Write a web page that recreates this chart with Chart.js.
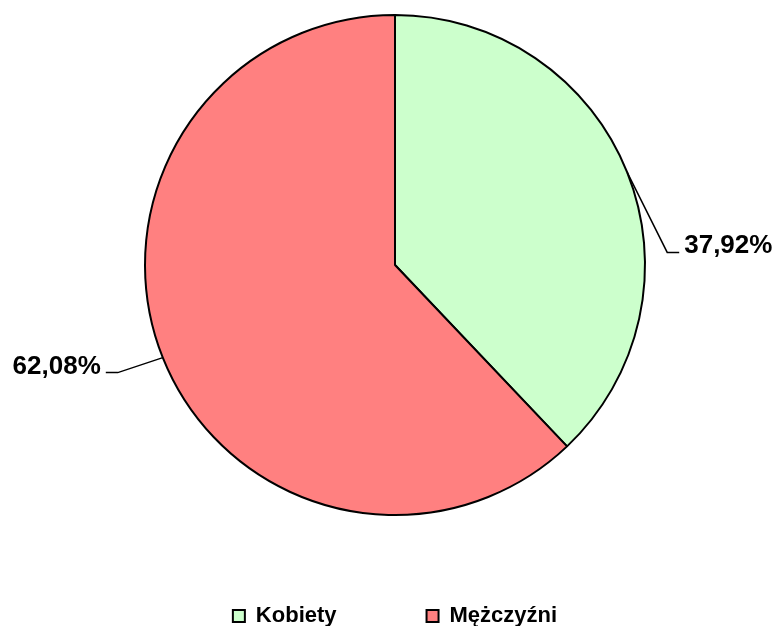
<!DOCTYPE html>
<html>
<head>
<meta charset="utf-8">
<script src="https://cdn.jsdelivr.net/npm/chart.js@4"></script>
<style>
  html, body { margin: 0; padding: 0; background: #fff; }
  #wrap { width: 776px; height: 626px; }
</style>
</head>
<body>
<div id="wrap"><canvas id="wykres"></canvas></div>
<script>
// Dane wykresu
const kategorie = ['Kobiety', 'Mężczyźni'];
const wartosci = [37.92, 62.08];
const etykiety = ['37,92%', '62,08%'];
const kolory = ['#CCFFCC', '#FF8080'];

// Przesunięcie łamania linii odnośnika względem środka łuku
const odnosniki = [
    { dx: 40, dy: 80, kierunek: 1 },
    { dx: -45, dy: 15, kierunek: -1 }
];

// Plugin rysujący etykiety procentowe z liniami
const etykietyPlugin = {
    id: 'etykietyProcent',
    afterDatasetsDraw(chart) {
        const ctx = chart.ctx;
        const meta = chart.getDatasetMeta(0);
        ctx.save();
        ctx.strokeStyle = '#000';
        ctx.lineWidth = 1.5;
        ctx.fillStyle = '#000';
        ctx.font = 'bold 26px "Liberation Sans", Arial, sans-serif';
        ctx.textBaseline = 'alphabetic';
        meta.data.forEach((arc, i) => {
            const p = arc.getProps(['x', 'y', 'startAngle', 'endAngle', 'outerRadius'], true);
            const kat = (p.startAngle + p.endAngle) / 2;
            const x0 = p.x + Math.cos(kat) * p.outerRadius;
            const y0 = p.y + Math.sin(kat) * p.outerRadius;
            const o = odnosniki[i];
            const x1 = x0 + o.dx;
            const y1 = y0 + o.dy;
            const x2 = x1 + o.kierunek * 12;
            ctx.beginPath();
            ctx.moveTo(x0, y0);
            ctx.lineTo(x1, y1);
            ctx.lineTo(x2, y1);
            ctx.stroke();
            ctx.textAlign = o.kierunek > 0 ? 'left' : 'right';
            ctx.fillText(etykiety[i], x2 + o.kierunek * 5, y1 + 1);
        });
        ctx.restore();
    }
};

new Chart(document.getElementById('wykres'), {
    type: 'pie',
    data: {
        labels: kategorie,
        datasets: [{
            data: wartosci,
            backgroundColor: kolory,
            borderColor: '#000',
            borderWidth: 2
        }]
    },
    options: {
        responsive: true,
        maintainAspectRatio: false,
        animation: false,
        radius: 250,
        layout: { padding: { top: 15, left: 14, right: 0, bottom: -11 } },
        plugins: {
            tooltip: { enabled: false },
            legend: {
                position: 'bottom',
                labels: {
                    color: '#000',
                    boxWidth: 12,
                    boxHeight: 12,
                    padding: 90,
                    font: { family: '"Liberation Sans", Arial, sans-serif', size: 22, weight: 'bold' },
                    generateLabels(chart) {
                        return kategorie.map((k, i) => ({
                            text: k,
                            fillStyle: kolory[i],
                            strokeStyle: '#000',
                            lineWidth: 2,
                            hidden: false,
                            index: i
                        }));
                    }
                }
            }
        }
    },
    plugins: [etykietyPlugin]
});
</script>
</body>
</html>
